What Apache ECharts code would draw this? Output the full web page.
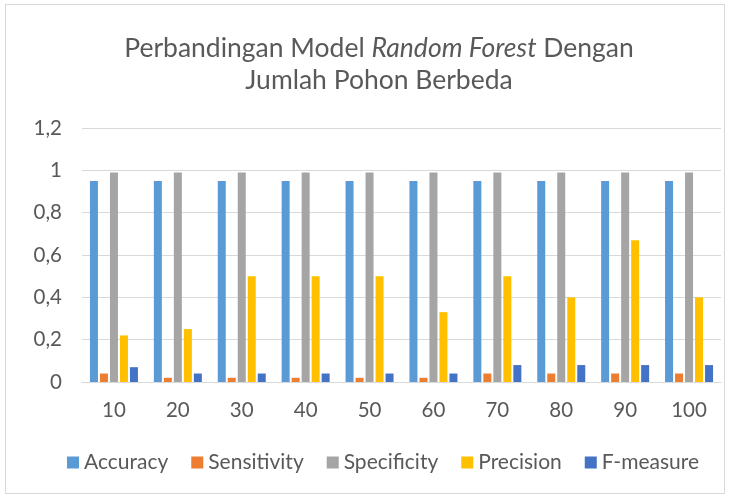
<!DOCTYPE html>
<html>
<head>
<meta charset="utf-8">
<script src="https://cdn.jsdelivr.net/npm/echarts@6/dist/echarts.min.js"></script>
<style>
  html, body { margin: 0; padding: 0; background: #fff; }
  #chart { position: absolute; left: 5px; top: 4px; width: 720px; height: 490px; border: 1px solid #d9d9d9; box-sizing: border-box; }
</style>
</head>
<body>
<div id="chart"></div>
<script>
  // data
  var categories = ['10', '20', '30', '40', '50', '60', '70', '80', '90', '100'];
  var accuracy    = [0.95, 0.95, 0.95, 0.95, 0.95, 0.95, 0.95, 0.95, 0.95, 0.95];
  var sensitivity = [0.04, 0.02, 0.02, 0.02, 0.02, 0.02, 0.04, 0.04, 0.04, 0.04];
  var specificity = [0.99, 0.99, 0.99, 0.99, 0.99, 0.99, 0.99, 0.99, 0.99, 0.99];
  var precision   = [0.22, 0.25, 0.5, 0.5, 0.5, 0.33, 0.5, 0.4, 0.67, 0.4];
  var fmeasure    = [0.07, 0.04, 0.04, 0.04, 0.04, 0.04, 0.08, 0.08, 0.08, 0.08];
  var seriesNames = ['Accuracy', 'Sensitivity', 'Specificity', 'Precision', 'F-measure'];
  var colors = ['#5b9bd5', '#ed7d31', '#a5a5a5', '#ffc000', '#4472c4'];

  var font = 'Lato';
  var chart = echarts.init(document.getElementById('chart'));

  function bar(name, data, color) {
    return {
      name: name,
      type: 'bar',
      data: data,
      barWidth: 8,
      barGap: '25%',
      itemStyle: { color: color }
    };
  }

  chart.setOption({
    animation: false,
    textStyle: { fontFamily: font, color: '#595959' },
    title: {
      text: '{n|Perbandingan Model }{i|Random Forest}{n| Dengan}\n{n|Jumlah Pohon Berbeda}',
      left: 368,
      textAlign: 'center', // centred on x = left
      top: 22,
      textStyle: {
        fontWeight: 'normal',
        rich: {
          n: { fontFamily: font, fontSize: 26.5, fontWeight: 'normal', color: '#595959', lineHeight: 32 },
          i: { fontFamily: font, fontSize: 26.5, fontWeight: 'normal', color: '#595959', fontStyle: 'italic', lineHeight: 32 }
        }
      }
    },
    grid: { left: 76, right: 3, top: 123, bottom: 111 },
    legend: {
      bottom: 15,
      left: 56,
      itemWidth: 12,
      itemHeight: 12,
      itemGap: 23,
      icon: 'rect',
      textStyle: { fontFamily: font, fontSize: 21, color: '#595959' },
      data: seriesNames
    },
    xAxis: {
      type: 'category',
      data: categories,
      axisLine: { lineStyle: { color: '#d9d9d9', width: 1 } },
      axisTick: { show: false },
      axisLabel: { fontFamily: font, fontSize: 20.5, color: '#595959', margin: 18 }
    },
    yAxis: {
      type: 'value',
      min: 0,
      max: 1.2,
      interval: 0.2,
      axisLine: { show: false },
      axisTick: { show: false },
      splitLine: { lineStyle: { color: '#d9d9d9', width: 1 } },
      axisLabel: {
        fontFamily: font, fontSize: 20.5, color: '#595959', margin: 20,
        formatter: function (v) { return String(Math.round(v * 10) / 10).replace('.', ','); }
      }
    },
    series: [
      bar(seriesNames[0], accuracy, colors[0]),
      bar(seriesNames[1], sensitivity, colors[1]),
      bar(seriesNames[2], specificity, colors[2]),
      bar(seriesNames[3], precision, colors[3]),
      bar(seriesNames[4], fmeasure, colors[4])
    ]
  });
</script>
</body>
</html>
